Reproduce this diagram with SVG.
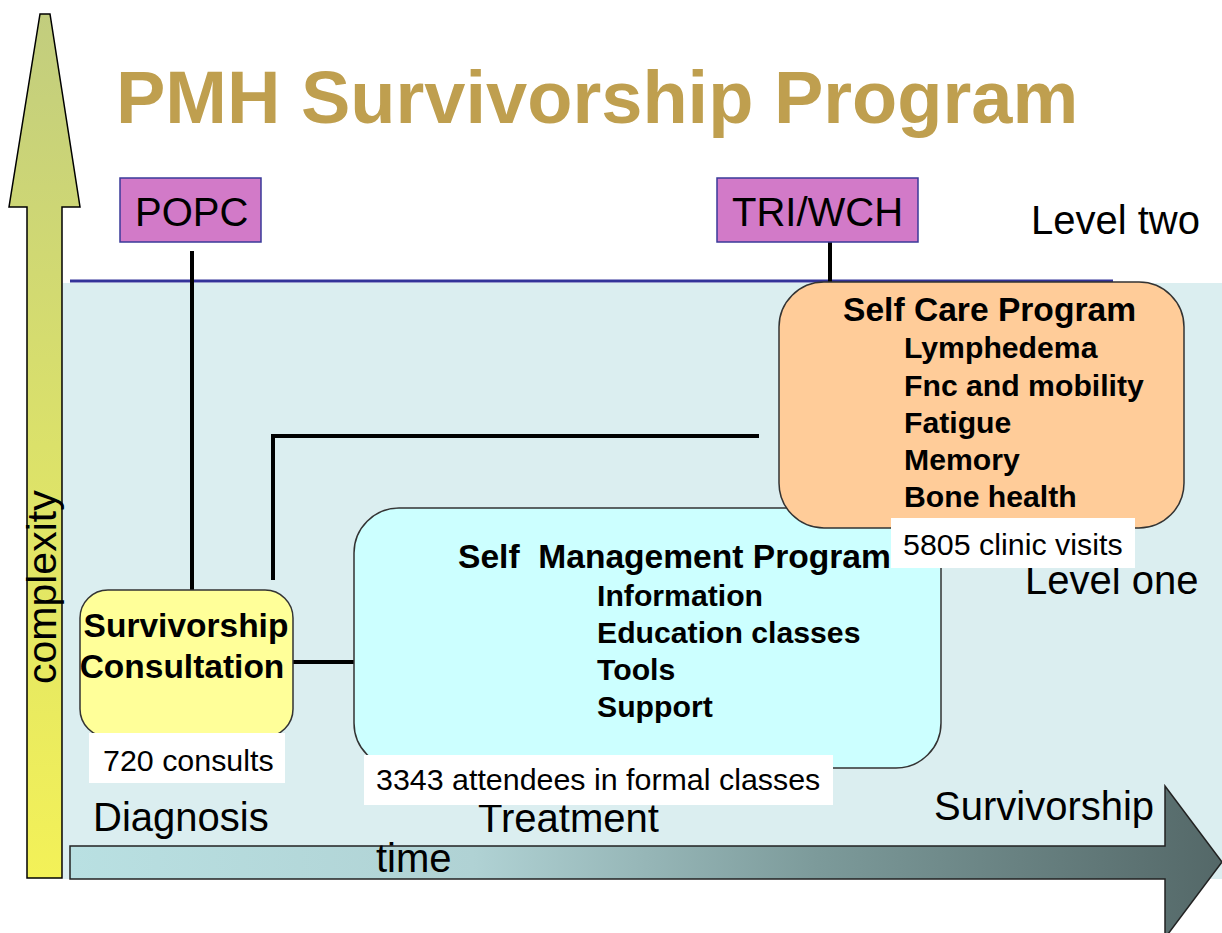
<svg xmlns="http://www.w3.org/2000/svg" width="1222" height="933" viewBox="0 0 1222 933">
<defs>
<linearGradient id="gv" x1="0" y1="0" x2="0" y2="1">
<stop offset="0" stop-color="#c2cd7e"/>
<stop offset="0.5" stop-color="#dbe16a"/>
<stop offset="1" stop-color="#f3f158"/>
</linearGradient>
<linearGradient id="gh" gradientUnits="userSpaceOnUse" x1="70" y1="0" x2="1222" y2="0">
<stop offset="0" stop-color="#b9e0e2"/>
<stop offset="0.35" stop-color="#b0d2d4"/>
<stop offset="0.65" stop-color="#7c9a9a"/>
<stop offset="1" stop-color="#546868"/>
</linearGradient>
<style>
.t{font-family:"Liberation Sans",Arial,sans-serif;fill:#000}
.b{font-weight:bold}
.lbl{font-size:40px}
.sm{font-size:30.4px}
.it{font-size:30.2px;font-weight:bold}
.hd{font-size:33.6px;font-weight:bold}
.ln{stroke:#000;stroke-width:4;fill:none}
.box{stroke:#333;stroke-width:1.5}
.org{fill:#d27ac8;stroke:#3a3a99;stroke-width:1.5}
.wb{fill:#fff}
</style>
</defs>
<rect x="63" y="283" width="1159" height="596" fill="#dbeef0"/>
<line x1="70" y1="281" x2="1113" y2="281" stroke="#333399" stroke-width="3"/>
<text class="t b" x="116" y="123" font-size="74" style="fill:#bf9f4f">PMH Survivorship Program</text>
<g id="complexity-axis">
<path d="M27,878 L27,207 L9,207 L40,14 L50,14 L80,207 L62,207 L62,878 Z" fill="url(#gv)" stroke="#000" stroke-width="1.5"/>
<text class="t" font-size="41" transform="translate(56,684) rotate(-90)">complexity</text>
</g>
<g id="time-axis">
<path d="M70,846 L1165,846 L1165,786 L1222,862 L1165,938 L1165,879 L70,879 Z" fill="url(#gh)" stroke="#222" stroke-width="1.5"/>
<text class="t lbl" x="376" y="872">time</text>
<text class="t lbl" x="93" y="831">Diagnosis</text>
<text class="t lbl" x="478" y="832">Treatment</text>
<text class="t lbl" x="934" y="820">Survivorship</text>
</g>
<text class="t lbl" x="1031" y="234">Level two</text>
<text class="t lbl" x="1025" y="594">Level one</text>
<g id="connectors">
<line class="ln" x1="192" y1="251" x2="192" y2="590"/>
<line class="ln" x1="830" y1="242" x2="830" y2="283"/>
<polyline class="ln" points="273,580 273,436 759,436"/>
<line class="ln" x1="293" y1="662" x2="354" y2="662" stroke-width="5"/>
</g>
<g id="popc">
<rect class="org" x="120" y="178" width="141" height="64"/>
<text class="t lbl" x="135" y="226">POPC</text>
</g>
<g id="tri-wch">
<rect class="org" x="717" y="178" width="201" height="64"/>
<text class="t lbl" x="732" y="226">TRI/WCH</text>
</g>
<g id="self-management">
<rect class="box" x="354" y="508" width="587" height="260" rx="45" fill="#ccffff"/>
<text class="t hd" x="458" y="568">Self&#160; Management Program</text>
<text class="t it" x="597" y="606">Information</text>
<text class="t it" x="597" y="643">Education classes</text>
<text class="t it" x="597" y="680">Tools</text>
<text class="t it" x="597" y="717">Support</text>
</g>
<g id="self-care">
<rect class="box" x="779" y="282" width="405" height="246" rx="45" fill="#ffcc99"/>
<text class="t hd" x="843" y="321">Self Care Program</text>
<text class="t it" x="904" y="358">Lymphedema</text>
<text class="t it" x="904" y="396">Fnc and mobility</text>
<text class="t it" x="904" y="433">Fatigue</text>
<text class="t it" x="904" y="470">Memory</text>
<text class="t it" x="904" y="507">Bone health</text>
</g>
<g id="consultation">
<rect class="box" x="80" y="590" width="213" height="147" rx="28" fill="#ffff99"/>
<text class="t b" x="186" y="637" font-size="33.5" text-anchor="middle">Survivorship</text>
<text class="t b" x="182" y="678" font-size="33.5" text-anchor="middle">Consultation</text>
</g>
<g id="counts">
<rect class="wb" x="89" y="733" width="196" height="50"/>
<text class="t sm" x="103" y="771">720 consults</text>
<rect class="wb" x="364" y="755" width="469" height="50"/>
<text class="t sm" x="376" y="790">3343 attendees in formal classes</text>
<rect class="wb" x="891" y="518" width="244" height="50"/>
<text class="t sm" x="903" y="555">5805 clinic visits</text>
</g>
</svg>
